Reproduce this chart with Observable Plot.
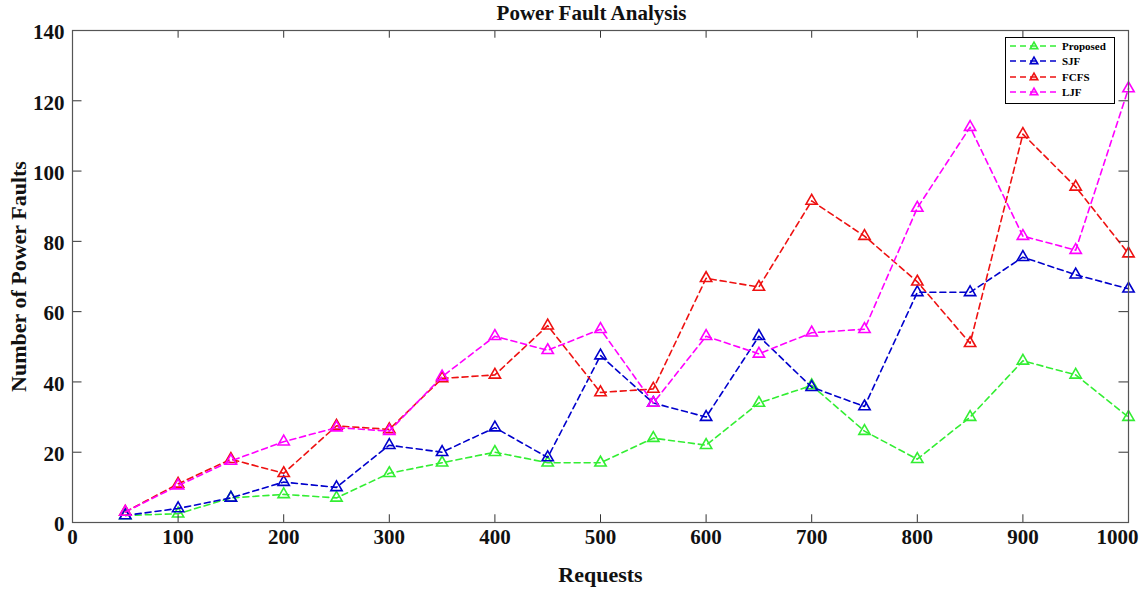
<!DOCTYPE html>
<html>
<head>
<meta charset="utf-8">
<script src="https://cdn.jsdelivr.net/npm/d3@7"></script>
<script src="https://cdn.jsdelivr.net/npm/@observablehq/plot@0.6"></script>
<style>
  html, body { margin: 0; padding: 0; background: #fff; }
  #wrap { position: relative; width: 1141px; height: 589px; }
  #legend { position: absolute; left: 1005px; top: 37px; width: 110px; height: 67px; border: 1px solid #000; background: #fff; box-sizing: border-box; font-family: "Liberation Serif", serif; font-weight: bold; font-size: 11px; }
  #legend .row { display: flex; align-items: center; height: 15.5px; padding-left: 3px; }
  #legend svg { margin-right: 3px; }
</style>
</head>
<body>
<div id="wrap">
  <div id="chart"></div>
  <div id="legend"></div>
</div>
<script>
const requests = [50,100,150,200,250,300,350,400,450,500,550,600,650,700,750,800,850,900,950,1000];
const proposed = [2,2.5,7,8,7,14,17,20,17,17,24,22,34,39,26,18,30,46,42,30];
const sjf      = [2,4,7,11.5,10,22,20,27,18.5,47.5,34,30,53,38.5,33,65.5,65.5,75.5,70.5,66.5];
const fcfs     = [3,11,18,14,27.5,26.5,41,42,56,37,38,69.5,67,91.5,81.5,68.5,51,110.5,95.5,76.5];
const ljf      = [3,10.5,17.5,23,27,26,41.5,53,49,55,34,53,48,54,55,89.5,112.5,81.5,77.5,123.5];
const seriesNames = ["Proposed","SJF","FCFS","LJF"];
const seriesColors = ["#33ee33","#0000cc","#ee1111","#ff00ff"];
const xTicks = [0,100,200,300,400,500,600,700,800,900,1000];
const yTicks = [0,20,40,60,80,100,120,140];

const allSeries = [proposed, sjf, fcfs, ljf];
const data = [];
allSeries.forEach((vals, i) => vals.forEach((v, j) => data.push({series: seriesNames[i], x: requests[j], y: v})));

const font = "Liberation Serif, Times New Roman, serif";
const marks = [];
seriesNames.forEach((name, i) => {
  const d = data.filter(r => r.series === name);
  marks.push(Plot.line(d, {x: "x", y: "y", stroke: seriesColors[i], strokeWidth: 1.6, strokeDasharray: "6,4"}));
  marks.push(Plot.dot(d, {x: "x", y: "y", symbol: "triangle", stroke: seriesColors[i], fill: "none", strokeWidth: 1.6, r: 4.2}));
});

const chart = Plot.plot({
  width: 1141,
  height: 589,
  marginLeft: 72,
  marginRight: 13,
  marginTop: 30,
  marginBottom: 67,
  style: {fontFamily: font, background: "#fff"},
  x: {domain: [0, 1000], ticks: xTicks},
  y: {domain: [0, 140], ticks: yTicks},
  marks: [
    ...marks,
    Plot.ruleX(xTicks, {x: d => d, y1: 0, y2: 2.2, stroke: "#333"}),
    Plot.ruleX(xTicks, {x: d => d, y1: 140, y2: 137.8, stroke: "#333"}),
    Plot.ruleY(yTicks, {y: d => d, x1: 0, x2: 9, stroke: "#333"}),
    Plot.ruleY(yTicks, {y: d => d, x1: 1000, x2: 991, stroke: "#333"}),
    Plot.frame({stroke: "#555", strokeWidth: 1.2}),
    Plot.axisX({ticks: xTicks, tickFormat: d3.format("d"), tickSize: 0, tickPadding: 7, fontSize: 21, fontWeight: "bold", fill: "#111",
      label: "Requests", labelAnchor: "center", labelOffset: 59, labelArrow: "none"}),
    Plot.axisY({ticks: yTicks, tickSize: 0, tickPadding: 8, dy: 2, fontSize: 21, fontWeight: "bold", fill: "#111",
      label: "Number of Power Faults", labelAnchor: "center", labelOffset: 62, labelArrow: "none"}),
    Plot.text(["Power Fault Analysis"], {frameAnchor: "top", dy: -25, dx: -9, fontSize: 21, fontWeight: "bold", fill: "#111"})
  ]
});
document.getElementById("chart").appendChild(chart);

// style axis labels
d3.select(chart).selectAll("[aria-label='x-axis label'] text, [aria-label='y-axis label'] text")
  .attr("font-size", 22).attr("font-weight", "bold").attr("fill", "#111");
// last x tick label sits left of the right edge, as in the reference
const xt = d3.select(chart).selectAll("[aria-label='x-axis tick label'] text").nodes();
if (xt.length) {
  const last = d3.select(xt[xt.length - 1]);
  const tr = last.attr("transform") || "";
  last.attr("transform", tr + " translate(-11,0)");
}

// legend
const legend = d3.select("#legend");
seriesNames.forEach((name, i) => {
  const row = legend.append("div").attr("class", "row");
  const s = row.append("svg").attr("width", 50).attr("height", 12);
  s.append("line").attr("x1", 1).attr("x2", 49).attr("y1", 6).attr("y2", 6)
    .attr("stroke", seriesColors[i]).attr("stroke-width", 1.6).attr("stroke-dasharray", "6,4");
  s.append("path").attr("d", d3.symbol(d3.symbolTriangle2, 40)()).attr("transform", "translate(25,6.5)")
    .attr("fill", "none").attr("stroke", seriesColors[i]).attr("stroke-width", 1.6);
  row.append("span").text(name);
});
</script>
</body>
</html>
